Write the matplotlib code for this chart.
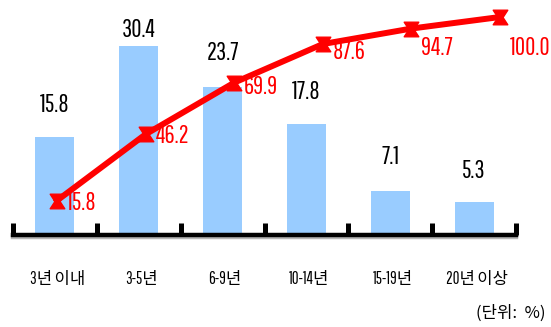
import matplotlib
matplotlib.use("Agg")
import matplotlib.pyplot as plt
import matplotlib.patheffects as pe
from matplotlib.path import Path
import numpy as np

categories = ["3년 이내", "3-5년", "6-9년", "10-14년", "15-19년", "20년 이상"]
share = [15.8, 30.4, 23.7, 17.8, 7.1, 5.3]
cumulative = [15.8, 46.2, 69.9, 87.6, 94.7, 100.0]
unit_text = "(단위:  %)"

# layout-only offsets (points)
bar_label_offsets = [23, 11, 25, 23, 24, 22]
line_label_dy = [-2, -1.5, -3, -6, -14, -22]

num_font = ['Pathway Gothic One', 'DejaVu Sans']
kr_font = ['Pathway Gothic One', 'Noto Sans CJK KR', 'DejaVu Sans']

fig = plt.figure(figsize=(5.51, 3.27), dpi=100)
pos = [13 / 551, (327 - 235) / 327, 503 / 551, 235 / 327]
ax = fig.add_axes(pos)
ax2 = fig.add_axes(pos, sharex=None)
ax2.patch.set_visible(False)

x = np.arange(len(categories))
ax.bar(x, share, width=0.465, color='#99CCFF', zorder=1)
ax.set_xlim(-0.5, len(categories) - 0.5)
ax.set_ylim(0, 37.7)

for xi, v, off in zip(x, share, bar_label_offsets):
    ax.annotate(f"{v:.1f}", (xi, v), xytext=(0, off), textcoords='offset points',
                ha='center', va='center', color='black', fontsize=18, family=num_font)

for s in ['top', 'left', 'right']:
    ax.spines[s].set_visible(False)
ax.spines['bottom'].set_linewidth(3.2)
ax.spines['bottom'].set_path_effects([pe.SimpleLineShadow(offset=(0, -1.5), shadow_color='#888888', alpha=0.6), pe.Normal()])
ax.set_yticks([])
ax.set_xticks(np.arange(-0.5, len(categories)), minor=False)
ax.set_xticklabels([])
ax.tick_params(axis='x', which='major', direction='in', length=8.6, width=3.6, color='black')
ax.set_xticks(x + 0.03, minor=True)
ax.set_xticklabels(categories, minor=True, fontsize=12, family=kr_font)
ax.tick_params(axis='x', which='minor', length=0, pad=26)

xl = np.arange(len(cumulative))
hourglass = Path([(-1, 1), (1, 1), (0.35, 0), (1, -1), (-1, -1), (-0.35, 0), (-1, 1)],
                 [Path.MOVETO, Path.LINETO, Path.LINETO, Path.LINETO, Path.LINETO, Path.LINETO, Path.CLOSEPOLY])
ax2.plot(xl, cumulative, color='#FF0000', lw=4.3, marker=hourglass, markersize=10.5,
         markerfacecolor='#FF0000', markeredgecolor='#FF0000', zorder=3, clip_on=False)
ax2.set_xlim((13 - 57) / 88.6, (516 - 57) / 88.6)
ax2.set_ylim(0, 107.8)
ax2.axis('off')
for xi, v, dy in zip(xl, cumulative, line_label_dy):
    ax2.annotate(f"{v:.1f}", (xi, v), xytext=(7.2, dy), textcoords='offset points',
                 ha='left', va='center', color='#FF0000', fontsize=18, family=num_font)

fig.text(545 / 551, 1 - 313 / 327, unit_text, ha='right', va='center', fontsize=12,
         family=['Noto Sans CJK KR', 'DejaVu Sans'])

fig.savefig('out.png', dpi=100)
